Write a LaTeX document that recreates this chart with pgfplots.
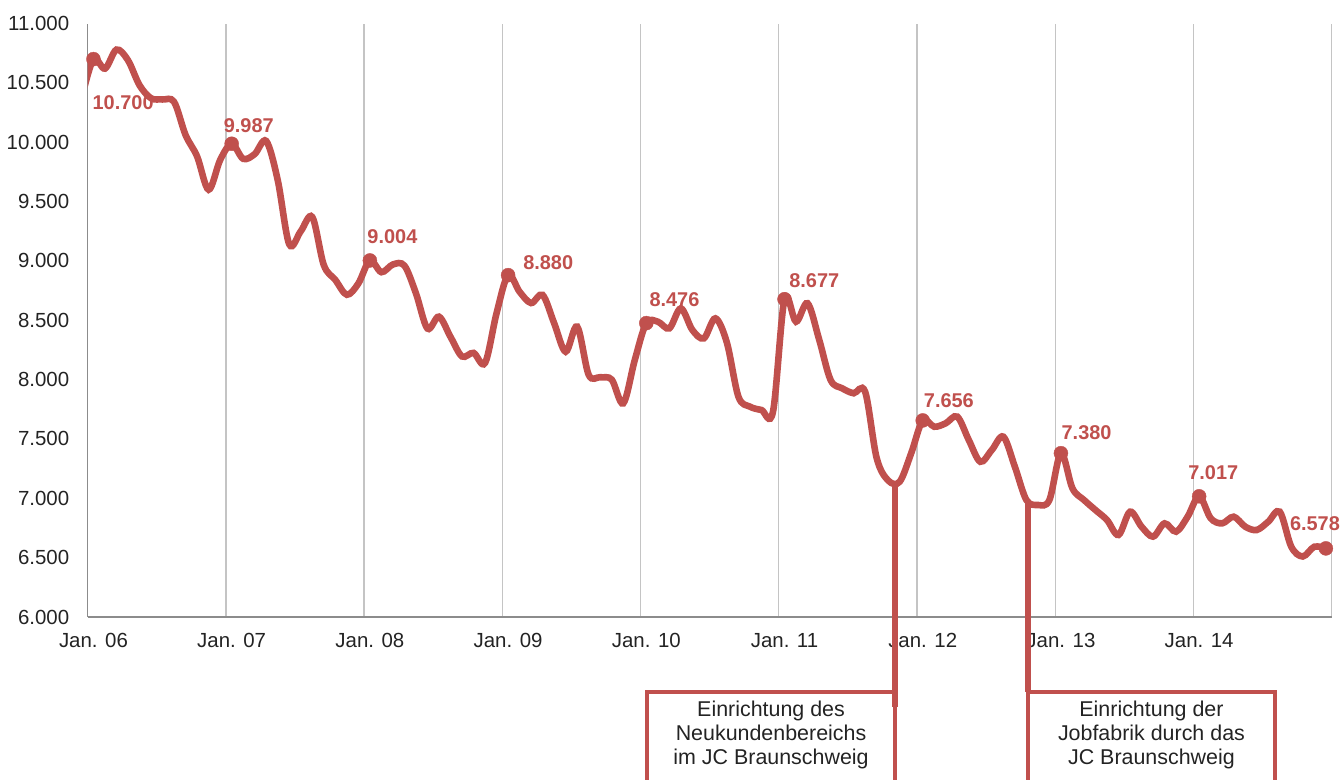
\documentclass[border=0pt]{standalone}
\usepackage{fontspec}
\setmainfont{Liberation Sans}
\usepackage{pgfplots}
\pgfplotsset{compat=1.18}
\usepackage{pgfplotstable}
\definecolor{lred}{RGB}{192,80,77}
\definecolor{gridc}{RGB}{196,196,196}
\definecolor{axg}{RGB}{140,140,140}
\definecolor{txt}{RGB}{35,35,35}
\tikzset{
  lbl/.style={font=\bfseries\fontsize{20}{24}\selectfont, text=lred, anchor=west, inner sep=0pt},
  note/.style={align=center, font=\fontsize{21.5}{23.7}\selectfont, text=txt, inner sep=0pt},
}

\pgfplotstableread{
x y
-1 10380
0 10700
1 10620
2 10780
3 10690
4 10480
5 10370
6 10360
7 10340
8 10060
9 9880
10 9600
11 9850
12 9987
13 9860
14 9900
15 10010
16 9680
17 9140
18 9250
19 9370
20 8965
21 8840
22 8715
23 8810
24 9004
25 8905
26 8970
27 8960
28 8727
29 8430
30 8530
31 8360
32 8195
33 8225
34 8140
35 8560
36 8880
37 8740
38 8645
39 8713
40 8475
41 8235
42 8446
43 8040
44 8020
45 8000
46 7800
47 8165
48 8476
49 8488
50 8432
51 8600
52 8418
53 8348
54 8516
55 8310
56 7856
57 7772
58 7744
59 7730
60 8677
61 8488
62 8643
63 8340
64 7997
65 7927
66 7885
67 7898
68 7340
69 7150
70 7140
71 7380
72 7656
73 7603
74 7632
75 7688
76 7491
77 7308
78 7407
79 7519
80 7266
81 6986
82 6944
83 6986
84 7380
85 7084
86 6986
87 6901
88 6817
89 6691
90 6887
91 6761
92 6677
93 6789
94 6719
95 6845
96 7017
97 6832
98 6789
99 6845
100 6761
101 6733
102 6803
103 6887
104 6592
105 6510
106 6592
107 6578
}\data

\pgfplotstableread{
x y
0 10700
12 9987
24 9004
36 8880
48 8476
60 8677
72 7656
84 7380
96 7017
107 6578
}\jan

\begin{document}
\begin{tikzpicture}
\useasboundingbox (-87.7bp,-163bp) rectangle (1254.3bp,617bp);
\begin{axis}[
  at={(0,0)}, anchor=south west,
  scale only axis, width=1243.9bp, height=593.5bp,
  xmin=-0.5, xmax=107.5, ymin=6000, ymax=11000,
  axis x line*=bottom, axis y line*=left,
  axis line style={-, draw=axg, line width=1.3bp},
  xtick={0,12,...,96},
  xticklabels={Jan. 06,Jan. 07,Jan. 08,Jan. 09,Jan. 10,Jan. 11,Jan. 12,Jan. 13,Jan. 14},
  minor xtick={-0.5,11.5,...,107.5},
  xminorgrids, minor grid style={draw=gridc, line width=1.3bp},
  ytick={6000,6500,...,11000},
  scaled y ticks=false,
  major tick length=0pt, minor tick length=0pt,
  ticklabel style={font=\fontsize{20.5}{24}\selectfont, text=txt},
  yticklabel style={/pgf/number format/.cd, fixed, precision=0, 1000 sep={.}, assume math mode=true, /tikz/.cd, xshift=-15bp},
  xticklabel style={yshift=-13bp},
  clip mode=individual,
]
\addplot[lred, line width=6.6bp, smooth, tension=0.55] table {\data};
\addplot[only marks, mark=*, mark size=7bp, mark options={draw=lred, fill=lred}] table {\jan};

\node[lbl, xshift=-1bp, yshift=-44bp] at (axis cs:0,10700) {10.700};
\node[lbl, xshift=-8bp, yshift=18bp] at (axis cs:12,9987) {9.987};
\node[lbl, xshift=-2.6bp, yshift=24bp] at (axis cs:24,9004) {9.004};
\node[lbl, xshift=15bp, yshift=13bp] at (axis cs:36,8880) {8.880};
\node[lbl, xshift=3bp, yshift=23bp] at (axis cs:48,8476) {8.476};
\node[lbl, xshift=4.6bp, yshift=19bp] at (axis cs:60,8677) {8.677};
\node[lbl, xshift=1bp, yshift=20bp] at (axis cs:72,7656) {7.656};
\node[lbl, xshift=0.5bp, yshift=21bp] at (axis cs:84,7380) {7.380};
\node[lbl, xshift=-11bp, yshift=24bp] at (axis cs:96,7017) {7.017};
\node[lbl, xshift=-36bp, yshift=25bp] at (axis cs:107,6578) {6.578};

% annotations
\draw[lred, line width=6bp] (axis cs:69.59,7135) -- (axis cs:69.59,5242);
\draw[lred, line width=3.3bp] (axis cs:48.06,4620) |- (axis cs:69.59,5368) -- (axis cs:69.59,4620);
\node[note] at (axis cs:58.83,5006) {Einrichtung des\\Neukundenbereichs\\im JC Braunschweig};

\draw[lred, line width=6bp] (axis cs:81.14,6975) -- (axis cs:81.14,5368);
\draw[lred, line width=3.3bp] (axis cs:81.14,4620) |- (axis cs:102.58,5368) -- (axis cs:102.58,4620);
\node[note] at (axis cs:91.86,5006) {Einrichtung der\\Jobfabrik durch das\\JC Braunschweig};
\end{axis}
\end{tikzpicture}
\end{document}
